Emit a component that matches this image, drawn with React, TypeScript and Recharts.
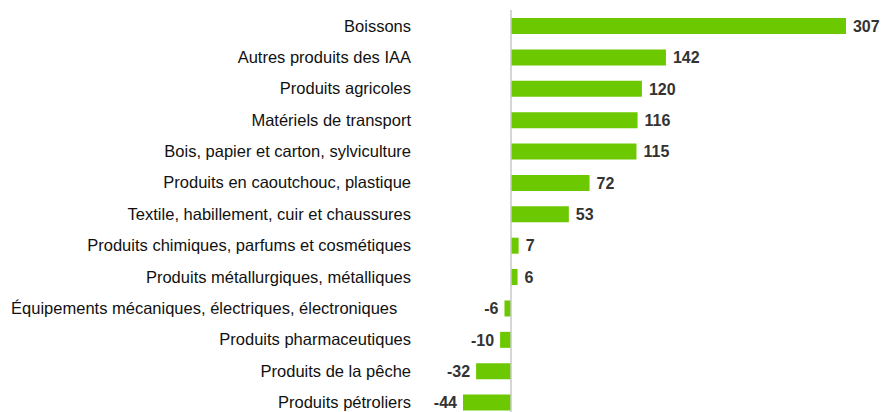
import React from "react";
import { BarChart, Bar, XAxis, YAxis, ReferenceLine, LabelList } from "recharts";

const categories = [
  "Boissons",
  "Autres produits des IAA",
  "Produits agricoles",
  "Matériels de transport",
  "Bois, papier et carton, sylviculture",
  "Produits en caoutchouc, plastique",
  "Textile, habillement, cuir et chaussures",
  "Produits chimiques, parfums et cosmétiques",
  "Produits métallurgiques, métalliques",
  "Équipements mécaniques, électriques, électroniques\u00a0\u00a0\u00a0",
  "Produits pharmaceutiques",
  "Produits de la pêche",
  "Produits pétroliers",
];

const values = [307, 142, 120, 116, 115, 72, 53, 7, 6, -6, -10, -32, -44];

const data = categories.map((name, i) => ({ name, value: values[i] }));

const renderLabel = (props: any) => {
  const { x, y, width, height, value } = props;
  const left = Math.min(x, x + width);
  const right = Math.max(x, x + width);
  const cy = y + height / 2;
  const neg = value < 0;
  return (
    <text
      x={neg ? left - 6 : right + 7}
      y={cy}
      dy="0.36em"
      textAnchor={neg ? "end" : "start"}
      fontFamily="'Liberation Sans', Arial, sans-serif"
      fontSize={16}
      fontWeight="bold"
      fill="#333333"
    >
      {value}
    </text>
  );
};

export default function App() {
  return (
    <div
      style={{
        position: "fixed",
        top: 0,
        left: 0,
        width: 881,
        height: 412,
        overflow: "hidden",
        background: "#ffffff",
      }}
    >
      <BarChart
        width={881}
        height={420}
        data={data}
        layout="vertical"
        margin={{ top: 10, right: 0, bottom: 2, left: 0 }}
      >
        <XAxis type="number" domain={[-83.4, 339.1]} hide allowDataOverflow />
        <YAxis
          type="category"
          dataKey="name"
          width={420}
          tickLine={false}
          axisLine={false}
          tickSize={0}
          tickMargin={9}
          interval={0}
          tick={{
            fontFamily: "'Liberation Sans', Arial, sans-serif",
            fontSize: 16.5,
            fill: "#111111",
            style: { whiteSpace: "pre" },
          }}
        />
        <ReferenceLine x={0} stroke="#c8c8c8" strokeWidth={1.5} />
        <Bar dataKey="value" fill="#6cc800" barSize={16} isAnimationActive={false}>
          <LabelList dataKey="value" content={renderLabel} />
        </Bar>
      </BarChart>
    </div>
  );
}
